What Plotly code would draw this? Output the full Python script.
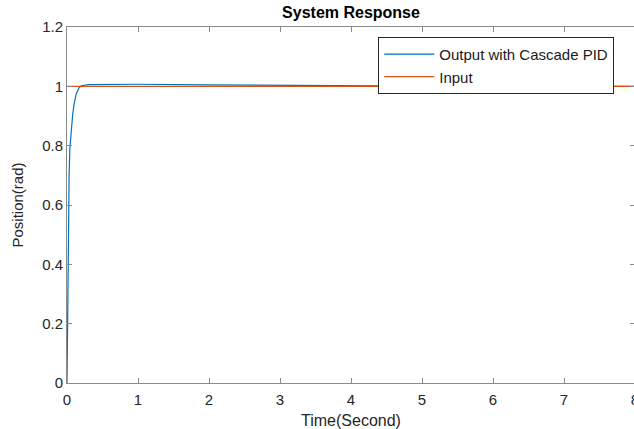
import plotly.graph_objects as go

# Data
t_out = [0, 0.005, 0.01, 0.015, 0.02, 0.03, 0.04, 0.06, 0.08, 0.10, 0.13, 0.17, 0.20, 0.30,
         0.50, 1.0, 2.0, 3.0, 4.0, 5.0, 6.0, 7.0, 8.0]
y_out = [0, 0.18, 0.33, 0.45, 0.55, 0.70, 0.79, 0.865, 0.905, 0.94, 0.975, 0.995, 1.002, 1.006,
         1.007, 1.007, 1.005, 1.003, 1.002, 1.001, 1.0005, 1.0002, 1.0]
t_in = [0, 8]
y_in = [1, 1]

x_ticks = [0, 1, 2, 3, 4, 5, 6, 7, 8]
y_ticks = [0, 0.2, 0.4, 0.6, 0.8, 1.0, 1.2]

fig = go.Figure()
fig.add_trace(go.Scatter(x=t_out, y=y_out, mode="lines", name="Output with Cascade PID",
                         line=dict(color="#0072BD", width=1.2)))
fig.add_trace(go.Scatter(x=t_in, y=y_in, mode="lines", name="Input",
                         line=dict(color="#D95319", width=1.2)))

axis_common = dict(showgrid=False, zeroline=False, showline=True, linecolor="#8a8a8a",
                   linewidth=1, mirror="ticks", ticks="inside", ticklen=5, automargin=False,
                   tickcolor="#8a8a8a", tickfont=dict(family="Liberation Sans", size=15, color="#262626"))

fig.update_layout(
    width=643, height=429,
    margin=dict(l=67, r=8, t=27, b=46),
    paper_bgcolor="white", plot_bgcolor="white",
    title=dict(text="<b>System Response</b>", x=0.5, xanchor="center", y=0.97, yanchor="middle",
               xref="paper",
               font=dict(family="Liberation Sans", size=16, color="black")),
    xaxis=dict(range=[0, 8], tickvals=x_ticks, ticklabelstandoff=3,
               title=dict(text="Time(Second)", standoff=8,
               font=dict(family="Liberation Sans", size=16, color="#262626")), **axis_common),
    yaxis=dict(range=[0, 1.2], tickvals=y_ticks, title=dict(text="Position(rad)", standoff=14,
               font=dict(family="Liberation Sans", size=15, color="#262626")), **axis_common),
    legend=dict(x=0.548, y=0.972, xanchor="left", yanchor="top", bgcolor="white",
                bordercolor="#262626", borderwidth=1,
                font=dict(family="Liberation Sans", size=15, color="#1a1a1a"),
                tracegroupgap=0, itemwidth=50),
    showlegend=True,
)

fig.write_html("out.html", config={"displayModeBar": False, "responsive": False},
               post_script="document.body.style.margin='0';document.body.style.overflow='hidden';")
